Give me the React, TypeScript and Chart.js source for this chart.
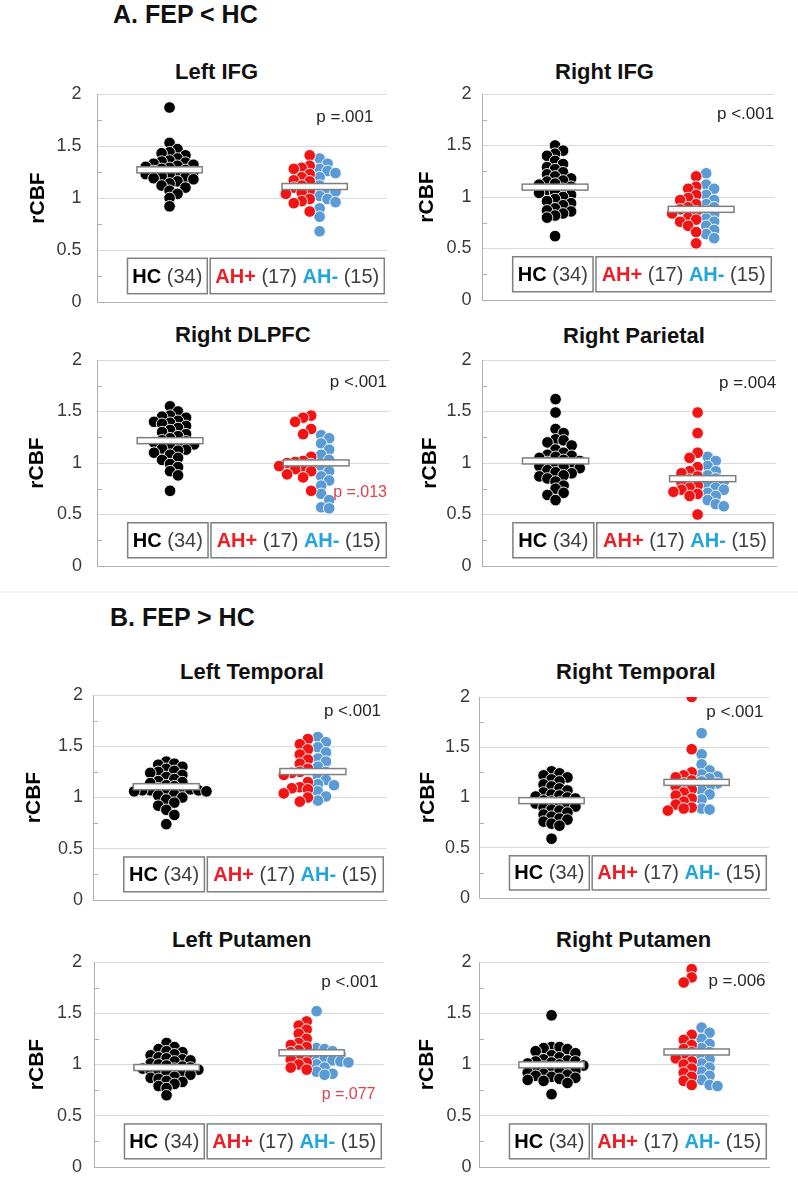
import React, { useEffect, useRef } from 'react';
import { Chart, registerables } from 'chart.js';

Chart.register(...registerables);

const FONT = '"Liberation Sans", Arial, Helvetica, sans-serif';
Chart.defaults.font.family = FONT;

// ---------------- data ----------------
const SECTION_TITLES = ['A. FEP < HC', 'B. FEP > HC'];
const PANEL_TITLES = ['Left IFG', 'Right IFG', 'Right DLPFC', 'Right Parietal', 'Left Temporal', 'Right Temporal', 'Left Putamen', 'Right Putamen'];
const P_MAIN = ['p =.001', 'p <.001', 'p <.001', 'p =.004', 'p <.001', 'p <.001', 'p <.001', 'p =.006'];
const P_SUB = ['', '', 'p =.013', '', '', '', 'p =.077', ''];
const GROUP_NAMES = ['HC', 'AH+', 'AH-'];
const Y_TITLE = 'rCBF';
const Y_TICKS = [0, 0.5, 1, 1.5, 2];
const Y_MINOR_TICKS = [0.25, 0.75, 1.25, 1.75];

const HC_VALUES = [
  [1.87, 1.53, 1.47, 1.44, 1.43, 1.41, 1.38, 1.36, 1.35, 1.34, 1.33, 1.32, 1.31, 1.30, 1.29, 1.28, 1.27, 1.26, 1.25, 1.24, 1.23, 1.22, 1.21, 1.20, 1.19, 1.18, 1.16, 1.14, 1.12, 1.10, 1.07, 1.04, 1.00, 0.92],
  [1.50, 1.45, 1.42, 1.40, 1.35, 1.32, 1.29, 1.27, 1.24, 1.22, 1.20, 1.18, 1.16, 1.15, 1.13, 1.12, 1.10, 1.08, 1.07, 1.05, 1.04, 1.02, 1.00, 0.98, 0.96, 0.94, 0.92, 0.89, 0.87, 0.86, 0.84, 0.82, 0.80, 0.62],
  [1.55, 1.50, 1.46, 1.45, 1.44, 1.41, 1.40, 1.39, 1.38, 1.36, 1.34, 1.32, 1.30, 1.28, 1.26, 1.24, 1.22, 1.21, 1.20, 1.19, 1.18, 1.16, 1.14, 1.13, 1.12, 1.10, 1.08, 1.05, 1.03, 0.99, 0.96, 0.92, 0.88, 0.73],
  [1.62, 1.49, 1.33, 1.29, 1.23, 1.22, 1.20, 1.17, 1.13, 1.10, 1.08, 1.07, 1.06, 1.05, 1.03, 1.02, 1.01, 0.99, 0.98, 0.97, 0.96, 0.95, 0.93, 0.91, 0.90, 0.88, 0.87, 0.85, 0.82, 0.78, 0.75, 0.71, 0.69, 0.64],
  [1.35, 1.33, 1.32, 1.30, 1.28, 1.26, 1.25, 1.24, 1.22, 1.20, 1.18, 1.16, 1.15, 1.14, 1.12, 1.11, 1.09, 1.08, 1.08, 1.07, 1.07, 1.07, 1.06, 1.06, 1.05, 1.03, 1.02, 1.00, 0.98, 0.95, 0.92, 0.88, 0.83, 0.74],
  [1.26, 1.24, 1.22, 1.20, 1.18, 1.16, 1.13, 1.11, 1.09, 1.07, 1.05, 1.03, 1.02, 1.01, 1.00, 0.99, 0.97, 0.96, 0.95, 0.94, 0.93, 0.91, 0.90, 0.88, 0.87, 0.85, 0.83, 0.81, 0.79, 0.78, 0.76, 0.74, 0.72, 0.59],
  [1.21, 1.17, 1.15, 1.13, 1.12, 1.10, 1.09, 1.07, 1.06, 1.05, 1.04, 1.03, 1.01, 1.00, 0.99, 0.98, 0.97, 0.96, 0.96, 0.95, 0.94, 0.93, 0.92, 0.91, 0.90, 0.88, 0.87, 0.86, 0.84, 0.83, 0.81, 0.79, 0.77, 0.70],
  [1.48, 1.17, 1.17, 1.16, 1.15, 1.13, 1.11, 1.09, 1.07, 1.05, 1.04, 1.03, 1.03, 1.02, 1.01, 1.00, 0.99, 0.98, 0.97, 0.96, 0.95, 0.94, 0.93, 0.92, 0.91, 0.90, 0.89, 0.88, 0.87, 0.86, 0.85, 0.84, 0.82, 0.71],
];

const AHP_VALUES = [
  [1.41, 1.31, 1.29, 1.28, 1.23, 1.20, 1.17, 1.16, 1.12, 1.10, 1.07, 1.05, 1.04, 0.99, 0.97, 0.95, 0.87],
  [1.20, 1.10, 1.08, 1.02, 0.99, 0.97, 0.93, 0.90, 0.88, 0.86, 0.84, 0.80, 0.78, 0.76, 0.72, 0.66, 0.55],
  [1.46, 1.44, 1.40, 1.33, 1.28, 1.06, 1.02, 1.01, 1.00, 0.99, 0.97, 0.95, 0.94, 0.92, 0.89, 0.86, 0.73],
  [1.49, 1.29, 1.10, 1.05, 0.96, 0.92, 0.90, 0.87, 0.84, 0.81, 0.78, 0.76, 0.74, 0.72, 0.70, 0.68, 0.50],
  [1.57, 1.52, 1.47, 1.42, 1.37, 1.33, 1.28, 1.25, 1.24, 1.22, 1.15, 1.10, 1.09, 1.08, 1.04, 1.00, 0.96],
  [2.00, 1.48, 1.25, 1.22, 1.20, 1.17, 1.14, 1.11, 1.08, 1.05, 1.02, 0.99, 0.96, 0.93, 0.90, 0.89, 0.87],
  [1.42, 1.38, 1.34, 1.30, 1.25, 1.21, 1.19, 1.17, 1.14, 1.12, 1.09, 1.07, 1.05, 1.02, 1.00, 0.97, 0.95],
  [1.93, 1.85, 1.80, 1.29, 1.24, 1.19, 1.15, 1.12, 1.08, 1.06, 1.03, 1.00, 0.96, 0.92, 0.88, 0.84, 0.80],
];

const AHM_VALUES = [
  [1.38, 1.33, 1.28, 1.26, 1.24, 1.20, 1.12, 1.08, 1.06, 1.02, 0.99, 0.96, 0.90, 0.82, 0.68],
  [1.23, 1.12, 1.08, 1.02, 0.97, 0.93, 0.90, 0.86, 0.83, 0.79, 0.76, 0.72, 0.68, 0.64, 0.60],
  [1.27, 1.24, 1.19, 1.13, 1.08, 1.03, 0.97, 0.92, 0.87, 0.83, 0.78, 0.70, 0.64, 0.57, 0.56],
  [1.06, 1.02, 0.97, 0.92, 0.88, 0.85, 0.82, 0.79, 0.76, 0.74, 0.71, 0.68, 0.64, 0.60, 0.58],
  [1.59, 1.54, 1.49, 1.44, 1.38, 1.35, 1.30, 1.25, 1.21, 1.17, 1.13, 1.12, 1.06, 1.01, 0.97],
  [1.64, 1.43, 1.33, 1.27, 1.23, 1.21, 1.19, 1.16, 1.14, 1.11, 1.07, 1.03, 0.98, 0.89, 0.88],
  [1.52, 1.16, 1.15, 1.13, 1.10, 1.07, 1.05, 1.04, 1.03, 1.02, 1.00, 0.97, 0.93, 0.91, 0.90],
  [1.36, 1.31, 1.25, 1.20, 1.16, 1.12, 1.08, 1.05, 1.01, 0.97, 0.93, 0.89, 0.85, 0.80, 0.79],
];

// ---------------- layout & style ----------------
const HC_X = 1;
const FEP_X = 3;
const MEAN_BAR_W = 0.9;
const AXIS_W = 96;
const PAD_T = 16;
const PAD_R = 6;
const PAD_B = 11;
const RED = '#f01414';
const BLUE = '#5b9bd5';
const LEG_RED = '#ee1c25';
const LEG_BLUE = '#22a5dd';
const NUM_GRAY = '#404040';
const SUB_RED = '#e2404a';
const GRID = '#d9d9d9';
const AXIS_COLOR = '#b0b0b0';
const BOX_COLOR = '#7f7f7f';
const LEG_BOXES = [
  { x0: 0.42, x1: 1.52 },
  { x0: 1.56, x1: 3.96 },
];
const LEG_Y0 = 0.08;
const LEG_Y1 = 0.42;
const SECTION_POS = [
  { x: 113, y: 14 },
  { x: 110, y: 617 },
];

const PANEL_LAYOUT = [
  { left: 97, top: 94, right: 388, bottom: 302, titleX: 175, titleY: 72, labelRight: 81.5, yTitleX: 38, pX: 3.81, pY: 1.78, sX: 0, sY: 0 },
  { left: 482, top: 94, right: 775, bottom: 300, titleX: 555, titleY: 72, labelRight: 471.5, yTitleX: 427, pX: 4.0, pY: 1.8, sX: 0, sY: 0 },
  { left: 97, top: 360, right: 390, bottom: 566, titleX: 175, titleY: 335, labelRight: 82, yTitleX: 37, pX: 3.97, pY: 1.78, sX: 3.97, sY: 0.71 },
  { left: 482, top: 360, right: 777, bottom: 566, titleX: 563, titleY: 336, labelRight: 471.5, yTitleX: 430, pX: 4.0, pY: 1.77, sX: 0, sY: 0 },
  { left: 93, top: 695, right: 387, bottom: 900, titleX: 180, titleY: 672, labelRight: 83, yTitleX: 34, pX: 3.93, pY: 1.84, sX: 0, sY: 0 },
  { left: 479, top: 697, right: 770, bottom: 898, titleX: 556, titleY: 672, labelRight: 470, yTitleX: 428, pX: 3.92, pY: 1.85, sX: 0, sY: 0 },
  { left: 94, top: 962, right: 385, bottom: 1167, titleX: 172, titleY: 940, labelRight: 82, yTitleX: 37, pX: 3.92, pY: 1.8, sX: 3.88, sY: 0.71 },
  { left: 479, top: 962, right: 770, bottom: 1167, titleX: 556, titleY: 940, labelRight: 471.5, yTitleX: 427, pX: 3.95, pY: 1.81, sX: 0, sY: 0 },
];

// ---------------- helpers ----------------
type Pt = { x: number; y: number };

// beeswarm layout on a column grid: side 0 = symmetric, -1 = leftwards only, 1 = rightwards only
function swarm(values: number[], center: number, side: number): Pt[] {
  const STEP = 8; // px between columns
  const VGAP = 7; // min vertical px between dots in the same column
  const BASE = side === 0 ? 0 : 5;
  const PX_X = 73;
  const PX_Y = 103;
  const order = values.map((_, i) => i).sort((a, b) => values[b] - values[a]);
  const placed: { ox: number; oy: number }[] = [];
  const out: Pt[] = new Array(values.length);
  for (const i of order) {
    const oy = values[i] * PX_Y;
    let chosen = 0;
    for (let k = 0; k < 80; k++) {
      const off = side === 0
        ? (k === 0 ? 0 : (k % 2 ? 1 : -1) * Math.ceil(k / 2) * STEP)
        : side * (BASE + k * STEP);
      const hit = placed.some((p) => {
        const dx = (p.ox - off) / STEP;
        const dy = (p.oy - oy) / VGAP;
        return dx * dx + dy * dy < 0.999;
      });
      if (!hit) {
        chosen = off;
        break;
      }
    }
    placed.push({ ox: chosen, oy });
    out[i] = { x: center + chosen / PX_X, y: values[i] };
  }
  return out;
}

const mean = (a: number[]) => a.reduce((s, v) => s + v, 0) / a.length;

type Run = { text: string; bold: boolean; color: string };

function drawRuns(ctx: CanvasRenderingContext2D, runs: Run[], cx: number, cy: number) {
  const size = 20;
  const fontOf = (r: Run) => `${r.bold ? 'bold ' : ''}${size}px ${FONT}`;
  const widths = runs.map((r) => {
    ctx.font = fontOf(r);
    return ctx.measureText(r.text).width;
  });
  const total = widths.reduce((s, w) => s + w, 0);
  let x = cx - total / 2;
  ctx.textAlign = 'left';
  ctx.textBaseline = 'middle';
  runs.forEach((r, i) => {
    ctx.font = fontOf(r);
    ctx.fillStyle = r.color;
    ctx.fillText(r.text, x, cy);
    x += widths[i];
  });
}

function Panel({ idx }: { idx: number }) {
  const ref = useRef<HTMLCanvasElement>(null);
  const L = PANEL_LAYOUT[idx];
  const cLeft = L.left - AXIS_W;
  const cTop = L.top - PAD_T;
  const cW = L.right - cLeft + PAD_R;
  const cH = L.bottom - cTop + PAD_B;

  useEffect(() => {
    const hc = HC_VALUES[idx];
    const ahp = AHP_VALUES[idx];
    const ahm = AHM_VALUES[idx];
    const means = [
      { x: HC_X, v: mean(hc) },
      { x: FEP_X, v: mean([...ahp, ...ahm]) },
    ];

    const decor = {
      id: 'panelDecor',
      afterDatasetsDraw(chart: any) {
        const { ctx, scales } = chart;
        const xs = scales.x;
        const ys = scales.y;
        ctx.save();
        for (const m of means) {
          const x0 = xs.getPixelForValue(m.x - MEAN_BAR_W / 2);
          const x1 = xs.getPixelForValue(m.x + MEAN_BAR_W / 2);
          const cy = ys.getPixelForValue(m.v);
          ctx.fillStyle = '#ffffff';
          ctx.strokeStyle = BOX_COLOR;
          ctx.lineWidth = 1.5;
          ctx.fillRect(x0, cy - 3, x1 - x0, 6);
          ctx.strokeRect(x0, cy - 3, x1 - x0, 6);
        }
        ctx.restore();
      },
      afterDraw(chart: any) {
        const { ctx, scales, chartArea } = chart;
        const xs = scales.x;
        const ys = scales.y;
        ctx.save();
        ctx.strokeStyle = AXIS_COLOR;
        ctx.lineWidth = 1;
        for (const v of Y_MINOR_TICKS) {
          const py = Math.round(ys.getPixelForValue(v)) + 0.5;
          ctx.beginPath();
          ctx.moveTo(chartArea.left, py);
          ctx.lineTo(chartArea.left + 5, py);
          ctx.stroke();
        }
        const by0 = ys.getPixelForValue(LEG_Y1);
        const by1 = ys.getPixelForValue(LEG_Y0);
        ctx.strokeStyle = BOX_COLOR;
        ctx.lineWidth = 1.5;
        LEG_BOXES.forEach((b) => {
          const bx0 = xs.getPixelForValue(b.x0);
          const bx1 = xs.getPixelForValue(b.x1);
          ctx.fillStyle = '#ffffff';
          ctx.fillRect(bx0, by0, bx1 - bx0, by1 - by0);
          ctx.strokeRect(bx0, by0, bx1 - bx0, by1 - by0);
        });
        const cy = (by0 + by1) / 2 + 1;
        drawRuns(ctx, [
          { text: GROUP_NAMES[0], bold: true, color: '#000000' },
          { text: ` (${hc.length})`, bold: false, color: NUM_GRAY },
        ], (xs.getPixelForValue(LEG_BOXES[0].x0) + xs.getPixelForValue(LEG_BOXES[0].x1)) / 2, cy);
        drawRuns(ctx, [
          { text: GROUP_NAMES[1], bold: true, color: LEG_RED },
          { text: ` (${ahp.length}) `, bold: false, color: NUM_GRAY },
          { text: GROUP_NAMES[2], bold: true, color: LEG_BLUE },
          { text: ` (${ahm.length})`, bold: false, color: NUM_GRAY },
        ], (xs.getPixelForValue(LEG_BOXES[1].x0) + xs.getPixelForValue(LEG_BOXES[1].x1)) / 2, cy);
        ctx.textAlign = 'right';
        ctx.textBaseline = 'middle';
        ctx.font = `17px ${FONT}`;
        ctx.fillStyle = '#262626';
        ctx.fillText(P_MAIN[idx], xs.getPixelForValue(L.pX), ys.getPixelForValue(L.pY));
        if (P_SUB[idx]) {
          ctx.font = `16px ${FONT}`;
          ctx.fillStyle = SUB_RED;
          ctx.fillText(P_SUB[idx], xs.getPixelForValue(L.sX), ys.getPixelForValue(L.sY));
        }
        ctx.restore();
      },
    };

    const dot = (color: string) => ({
      backgroundColor: color,
      borderColor: 'rgba(255,255,255,0.9)',
      borderWidth: 1,
      pointRadius: 5.8,
      pointHoverRadius: 5.8,
    });

    const chart = new Chart(ref.current as HTMLCanvasElement, {
      type: 'scatter',
      data: {
        datasets: [
          { label: GROUP_NAMES[0], data: swarm(hc, HC_X, 0), ...dot('#000000') },
          { label: GROUP_NAMES[1], data: swarm(ahp, FEP_X, -1), ...dot(RED) },
          { label: GROUP_NAMES[2], data: swarm(ahm, FEP_X, 1), ...dot(BLUE) },
        ],
      },
      options: {
        responsive: false,
        animation: false,
        events: [],
        layout: { padding: { left: 0, top: PAD_T, right: PAD_R, bottom: PAD_B } },
        plugins: {
          legend: { display: false },
          tooltip: { enabled: false },
          title: { display: false },
        },
        scales: {
          x: {
            type: 'linear',
            min: 0,
            max: 4,
            ticks: { display: false },
            grid: { display: false, drawTicks: false },
            border: { display: true, color: AXIS_COLOR, width: 1 },
            afterFit: (s: any) => { s.height = 0; },
          },
          y: {
            type: 'linear',
            min: 0,
            max: 2,
            afterFit: (s: any) => { s.width = AXIS_W; },
            afterBuildTicks: (s: any) => { s.ticks = Y_TICKS.map((v) => ({ value: v })); },
            ticks: {
              autoSkip: false,
              callback: (v: any) => String(v),
              font: { family: FONT, size: 18, lineHeight: 1 },
              color: '#3a3a3a',
              padding: 0,
            },
            grid: {
              drawTicks: true,
              tickLength: L.left - L.labelRight,
              tickColor: 'rgba(0,0,0,0)',
              lineWidth: 1,
              color: (c: any) => (c.tick && c.tick.value > 0 ? GRID : 'rgba(0,0,0,0)'),
            },
            border: { display: true, color: AXIS_COLOR, width: 1 },
            title: {
              display: true,
              text: Y_TITLE,
              color: '#000000',
              font: { family: FONT, size: 21, weight: 'bold', lineHeight: 1.2 },
              padding: { top: L.yTitleX - cLeft - 12.6, bottom: 0 },
            },
          },
        },
      } as any,
      plugins: [decor],
    } as any);
    return () => chart.destroy();
  }, [idx]);

  return (
    <canvas
      ref={ref}
      width={cW}
      height={cH}
      style={{ position: 'absolute', left: cLeft, top: cTop, width: cW, height: cH }}
    />
  );
}

export default function App() {
  return (
    <div
      style={{
        position: 'absolute',
        left: 0,
        top: 0,
        width: 798,
        height: 1177,
        overflow: 'hidden',
        background: '#ffffff',
        fontFamily: FONT,
      }}
    >
      {SECTION_TITLES.map((t, i) => (
        <div
          key={t}
          style={{
            position: 'absolute',
            left: SECTION_POS[i].x,
            top: SECTION_POS[i].y - 15,
            fontSize: 25,
            lineHeight: '30px',
            fontWeight: 'bold',
            whiteSpace: 'pre',
            color: '#111111',
          }}
        >
          {t}
        </div>
      ))}
      <div style={{ position: 'absolute', left: 0, top: 591, width: 798, height: 2, background: '#f5f5f5' }} />
      {PANEL_TITLES.map((t, i) => (
        <div
          key={t}
          style={{
            position: 'absolute',
            left: PANEL_LAYOUT[i].titleX,
            top: PANEL_LAYOUT[i].titleY - 13,
            fontSize: 22,
            lineHeight: '26px',
            fontWeight: 'bold',
            whiteSpace: 'pre',
            color: '#111111',
          }}
        >
          {t}
        </div>
      ))}
      {PANEL_TITLES.map((t, i) => (
        <Panel key={`p-${t}`} idx={i} />
      ))}
    </div>
  );
}
